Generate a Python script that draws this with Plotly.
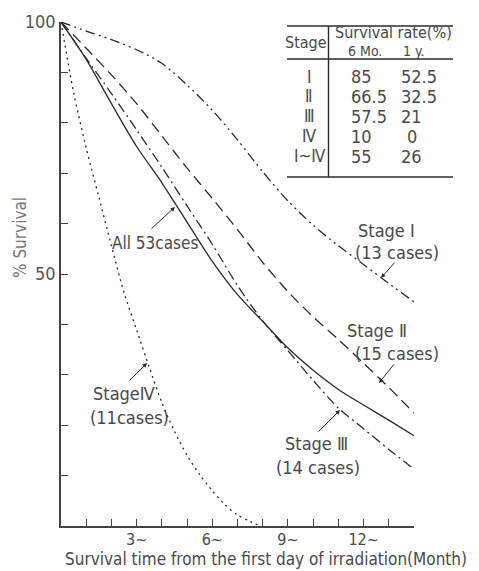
import plotly.graph_objects as go

# ---------------- data ----------------
months = [0, 1, 2, 3, 4, 5, 6, 7, 8, 9, 10, 11, 12, 13, 14]
stage1 = [100, 98.2, 96.5, 94.5, 91.8, 87.5, 82.5, 76.6, 70.3, 64.5, 59.7, 55.6, 51.9, 48.1, 44.5]
stage2 = [100, 94.8, 89.5, 83.8, 77.4, 71.0, 65.0, 58.8, 52.3, 46.5, 41.5, 37.0, 32.3, 27.5, 22.4]
all53 = [100, 92.6, 83.8, 75.3, 68.1, 60.3, 52.5, 45.9, 40.6, 35.3, 30.9, 27.1, 24.0, 21.0, 17.9]
stage3 = [100, 92.8, 85.8, 78.6, 71.2, 63.5, 55.9, 47.7, 40.7, 34.8, 28.9, 23.4, 19.3, 15.2, 11.3]
months4 = [0, 0.5, 1, 1.5, 2, 2.5, 3, 3.5, 4, 4.5, 5, 5.5, 6, 6.5, 7, 7.5, 7.9]
stage4 = [100, 86, 75, 65.3, 55.6, 46.3, 38.9, 31.5, 24.5, 18.8, 14.0, 10.2, 7.0, 4.2, 2.2, 0.9, 0]

x_tick_vals = list(range(1, 15))
x_tick_labels = {3: "3~", 6: "6~", 9: "9~", 12: "12~"}
y_tick_vals = list(range(10, 101, 10))
y_tick_labels = {50: "50", 100: "100"}

table_stages = ["Ⅰ", "Ⅱ", "Ⅲ", "Ⅳ", "Ⅰ~Ⅳ"]
table_6mo = ["85", "66.5", "57.5", "10", "55"]
table_1y = ["52.5", "32.5", "21", "0", "26"]

# ---------------- style ----------------
FONT = "Liberation Sans Narrow, DejaVu Sans Condensed, Noto Sans CJK JP, sans-serif"
LINE = "#2b2b2b"
TXT = "#4a4a4a"

# plot area: x pixels 61..414, y pixels 22..526
def PX(px):
    return (px - 61) / 353.0


def PY(py):
    return (526 - py) / 504.0


fig = go.Figure()

series = [
    (months, stage1, "10px,4px,2px,4px,2px,4px"),
    (months, stage2, "11px,6px"),
    (months, all53, "solid"),
    (months, stage3, "10px,4px,2px,4px"),
    (months4, stage4, "2px,4px"),
]
for xs, ys, dash in series:
    fig.add_trace(go.Scatter(x=xs, y=ys, mode="lines",
                             line=dict(color=LINE, width=1.3, dash=dash, shape="spline", smoothing=0.8),
                             hoverinfo="skip"))

ann = []


def text(px, py, s, size=18, xanchor="center", color=TXT, angle=0):
    ann.append(dict(x=PX(px), y=PY(py), xref="paper", yref="paper", text=s, showarrow=False,
                    xanchor=xanchor, yanchor="middle", textangle=angle,
                    font=dict(family=FONT, size=size, color=color)))


def arrow(px0, py0, px1, py1):
    ann.append(dict(x=PX(px1), y=PY(py1), ax=px0 - px1, ay=py0 - py1, xref="paper", yref="paper",
                    axref="pixel", ayref="pixel", text="", showarrow=True, arrowhead=2,
                    arrowsize=0.9, arrowwidth=1, arrowcolor=LINE))


# curve labels
text(155, 243, "All 53cases", 17)
arrow(150, 230, 175, 207)
text(386, 230, "Stage Ⅰ")
text(397, 252, "(13 cases)")
arrow(396, 261, 381, 278)
text(377, 330, "Stage Ⅱ")
text(397, 353, "(15 cases)")
arrow(395, 363, 379, 383)
text(316, 443, "Stage Ⅲ")
text(318, 467, "(14 cases)")
arrow(317, 433, 340, 410)
text(124, 393, "StageⅣ")
text(129, 417, "(11cases)")
arrow(128, 382, 147, 363)

# axis titles
text(20, 238, "% Survival", 17, color="#777777", angle=-90)
text(266, 559, "Survival time from the first day of irradiation(Month)", 17)

# table
text(306, 43, "Stage", 16)
text(393, 32, "Survival rate(%)", 16)
text(365, 51, "6 Mo.", 14)
text(413, 51, "1 y.", 14)
row_y = [77, 96, 116, 136, 156]
for i in range(len(table_stages)):
    text(309, row_y[i], table_stages[i], 17)
    text(349, row_y[i], table_6mo[i], 18, xanchor="left")
    text(399 if table_1y[i] != "0" else 405, row_y[i], table_1y[i], 18, xanchor="left")

shapes = []
for py, w in [(26, 1.6), (59, 1.4), (177, 1.6)]:
    shapes.append(dict(type="line", xref="paper", yref="paper", x0=PX(287), x1=PX(453), y0=PY(py), y1=PY(py),
                       line=dict(color=LINE, width=w)))
shapes.append(dict(type="line", xref="paper", yref="paper", x0=PX(328.5), x1=PX(328.5), y0=PY(26), y1=PY(177),
                   line=dict(color=LINE, width=1.4)))

fig.update_layout(
    width=479, height=571,
    margin=dict(l=61, r=65, t=22, b=45),
    plot_bgcolor="white", paper_bgcolor="white",
    showlegend=False,
    annotations=ann, shapes=shapes,
    xaxis=dict(range=[0, 14], showline=True, linecolor="#444", linewidth=1.5, mirror=False,
               ticks="inside", ticklen=7, tickcolor="#444", tickwidth=1.2,
               tickvals=x_tick_vals, ticktext=[x_tick_labels.get(v, "") for v in x_tick_vals],
               tickfont=dict(family=FONT, size=16, color=TXT), ticklabelstandoff=-2,
               showgrid=False, zeroline=False, fixedrange=True),
    yaxis=dict(range=[0, 100], showline=True, linecolor="#444", linewidth=1.5,
               ticks="inside", ticklen=7, tickcolor="#444", tickwidth=1.2,
               tickvals=y_tick_vals, ticktext=[y_tick_labels.get(v, "") for v in y_tick_vals],
               tickfont=dict(family=FONT, size=18, color="#555"),
               showgrid=False, zeroline=False, fixedrange=True),
)

fig.write_html("out.html")
